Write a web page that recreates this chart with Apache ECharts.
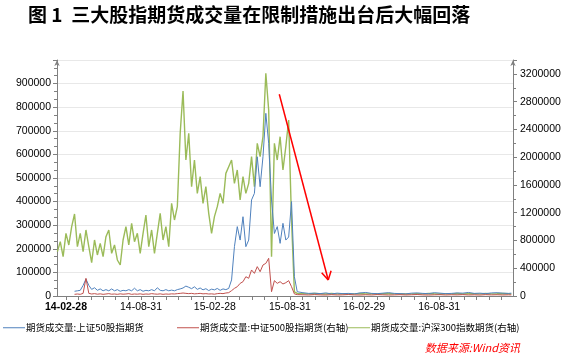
<!DOCTYPE html>
<html><head><meta charset="utf-8">
<script src="https://cdn.jsdelivr.net/npm/echarts@6/dist/echarts.min.js"></script>
<style>html,body{margin:0;padding:0;background:#fff}#c{width:570px;height:358px}</style>
</head><body><div id="c"></div>
<script>
const dates = ['2014-02-07','2014-02-14','2014-02-21','2014-02-28','2014-03-07','2014-03-14','2014-03-21','2014-03-28','2014-04-04','2014-04-11','2014-04-18','2014-04-25','2014-05-02','2014-05-09','2014-05-16','2014-05-23','2014-05-30','2014-06-06','2014-06-13','2014-06-20','2014-06-27','2014-07-04','2014-07-11','2014-07-18','2014-07-25','2014-08-01','2014-08-08','2014-08-15','2014-08-22','2014-08-29','2014-09-05','2014-09-12','2014-09-19','2014-09-26','2014-10-03','2014-10-10','2014-10-17','2014-10-24','2014-10-31','2014-11-07','2014-11-14','2014-11-21','2014-11-28','2014-12-05','2014-12-12','2014-12-19','2014-12-26',
'2015-01-02','2015-01-09','2015-01-16','2015-01-23','2015-01-30','2015-02-06','2015-02-13','2015-02-20','2015-02-27','2015-03-06','2015-03-13','2015-03-20','2015-03-27','2015-04-03','2015-04-10','2015-04-17','2015-04-24','2015-05-01','2015-05-08','2015-05-15','2015-05-22','2015-05-29','2015-06-05','2015-06-12','2015-06-19','2015-06-26','2015-07-03','2015-07-10','2015-07-17','2015-07-24','2015-07-31','2015-08-07','2015-08-14','2015-08-21','2015-08-28','2015-09-04',
'2015-09-11','2015-09-18','2015-10-02','2015-10-16','2015-10-30','2015-11-13','2015-11-27','2015-12-11','2015-12-25','2016-01-08','2016-01-22','2016-02-05','2016-02-19','2016-03-04','2016-03-18','2016-04-01','2016-04-15','2016-04-29','2016-05-13','2016-05-27','2016-06-10','2016-06-24','2016-07-08','2016-07-22','2016-08-05','2016-08-19','2016-09-02','2016-09-16','2016-09-30','2016-10-14','2016-10-28','2016-11-11','2016-11-25','2016-12-09','2016-12-23','2017-01-06','2017-01-20','2017-02-03','2017-02-17','2017-02-24'];

// 期货成交量:上证50股指期货 (left axis)
const sz50 = [null,null,null,null,null,null,
20000,22000,24000,45000,72000,45000,28000,35000,24000,30000,22000,27000,22000,30000,22000,27000,20000,24000,22000,27000,22000,33000,22000,27000,20000,24000,22000,27000,22000,35000,24000,22000,27000,22000,25000,22000,27000,30000,34000,42000,37000,31000,39000,28000,34000,26000,31000,23000,29000,26000,32000,24000,30000,27000,32000,
68000,209000,294000,237000,336000,209000,237000,407000,435000,590000,463000,590000,774000,647000,407000,265000,294000,223000,308000,237000,250000,400000,
82000,18000,14000,11000,12000,10000,13000,9000,12000,10000,11000,9000,13000,15000,11000,10000,12000,14000,11000,10000,9000,12000,13000,11000,10000,14000,12000,10000,11000,13000,12000,15000,11000,12000,10000,13000,14000,12000,11000,12000];

// 期货成交量:中证500股指期货 (right axis)
const zz500 = [null,null,null,null,null,null,
24000,29000,24000,38000,255000,38000,29000,34000,26000,31000,24000,29000,34000,26000,29000,24000,31000,26000,29000,34000,24000,29000,26000,31000,24000,29000,26000,34000,29000,26000,31000,24000,29000,26000,31000,29000,34000,38000,43000,38000,34000,38000,31000,34000,38000,31000,34000,29000,31000,26000,34000,38000,34000,43000,48000,
77000,110000,134000,182000,206000,278000,255000,375000,326000,423000,350000,447000,470000,543000,62000,221000,182000,206000,173000,192000,221000,134000,
30000,20000,18000,15000,20000,16000,14000,19000,15000,17000,21000,16000,14000,18000,15000,20000,17000,14000,16000,19000,15000,18000,21000,16000,14000,17000,19000,15000,18000,16000,20000,15000,17000,14000,19000,16000,18000,15000,17000,16000];

// 期货成交量:沪深300指数期货 (right axis)
const hs300 = [639000,783000,567000,903000,735000,999000,1181000,711000,903000,639000,951000,711000,480000,807000,591000,759000,567000,855000,951000,615000,735000,519000,447000,807000,999000,735000,1047000,783000,903000,615000,903000,1167000,711000,951000,615000,903000,1191000,807000,999000,711000,1335000,1095000,1287000,2343000,2953000,1959000,2343000,1575000,1959000,1479000,1719000,1335000,1575000,1191000,903000,1143000,1287000,1479000,1335000,1767000,1863000,1959000,1623000,1815000,1383000,1719000,1479000,1623000,2007000,1575000,2199000,2007000,2295000,3208000,2679000,567000,2199000,1959000,2295000,1815000,2151000,2535000,1095000,
60000,38000,34000,30000,36000,32000,28000,35000,30000,33000,29000,31000,36000,30000,34000,28000,32000,35000,30000,33000,29000,31000,34000,30000,36000,32000,29000,33000,31000,35000,30000,34000,32000,30000,35000,31000,33000,36000,32000,30000];

const seriesNames = ['期货成交量:上证50股指期货','期货成交量:中证500股指期货(右轴)','期货成交量:沪深300指数期货(右轴)'];
const xLabelDates = ['2014-02-28','2014-08-31','2015-02-28','2015-08-31','2016-02-29','2016-08-31'];
const arrowLine = [['2015-08-05',2906000],['2015-12-03',230000]];
const arrowWings = [['2015-11-17',336000],['2015-12-10',365000]];

function ts(s){const p=s.split('-');return new Date(+p[0],+p[1]-1,+p[2]).getTime();}
function pad(n){return (n<10?'0':'')+n;}
const monthTicks=[];
for(let y=2014;y<=2017;y++)for(let m=0;m<12;m++){const t=new Date(y,m+1,0).getTime();if(t>=ts('2014-02-28')&&t<=ts('2017-01-31'))monthTicks.push(t);}
function pairs(arr){const out=[];dates.forEach((d,i)=>{if(arr[i]!=null)out.push([ts(d),arr[i]]);});return out;}

const FONT='Liberation Sans';
const CJK='Noto Sans CJK SC';
const colors=['#4F81BD','#C0504D','#9BBB59'];
const plain=function(v){return String(v);};

const chart=echarts.init(document.getElementById('c'),null,{renderer:'canvas'});
const legendBase={icon:'rect',itemWidth:22,itemHeight:1,top:323,selectedMode:false,padding:0,
  textStyle:{fontSize:9.5,color:'#000',fontFamily:CJK,padding:[0,0,0,-4]}};
chart.setOption({
  animation:false,
  color:colors,
  title:[
    {text:'图 1  三大股指期货成交量在限制措施出台后大幅回落',left:28,top:5,padding:0,
     textStyle:{fontSize:19,fontWeight:'bold',color:'#000',fontFamily:CJK}},
    {text:'数据来源:Wind资讯',right:50,top:342,padding:0,
     textStyle:{fontSize:11,fontWeight:'normal',fontStyle:'italic',color:'#FF0000',fontFamily:CJK}}
  ],
  legend:[
    Object.assign({},legendBase,{left:3,data:[seriesNames[0]]}),
    Object.assign({},legendBase,{left:177,data:[seriesNames[1]]}),
    Object.assign({},legendBase,{left:348,data:[seriesNames[2]]})
  ],
  grid:{left:57,right:57,top:60,bottom:62},
  xAxis:{type:'value',min:ts('2014-02-06'),max:ts('2017-02-28'),
    axisLine:{show:true,lineStyle:{color:'#808080',width:1}},
    axisTick:{show:true,length:4,lineStyle:{color:'#808080'},customValues:monthTicks},
    axisLabel:{customValues:xLabelDates.map(ts),fontSize:10.5,color:'#000',fontFamily:FONT,margin:6,
      formatter:function(v){const d=new Date(v);const s=String(d.getFullYear()).slice(2)+'-'+pad(d.getMonth()+1)+'-'+pad(d.getDate());return s==='14-02-28'?'{b|'+s+'}':s;},
      rich:{b:{fontWeight:'bold',fontSize:10.5,color:'#000',fontFamily:FONT}}},
    splitLine:{show:false}},
  yAxis:[
    {type:'value',min:0,max:1000000,interval:100000,position:'left',
     axisLine:{show:true,symbol:['none','arrow'],symbolSize:[4,6],lineStyle:{color:'#808080'}},
     axisTick:{show:true,length:4,lineStyle:{color:'#808080'}},
     minorTick:{show:true,splitNumber:3,length:3,lineStyle:{color:'#808080'}},
     axisLabel:{showMaxLabel:false,fontSize:10.5,color:'#000',fontFamily:FONT,margin:6,formatter:plain},
     splitLine:{show:true,lineStyle:{color:'#E8E8E8',width:1}}},
    {type:'value',min:0,max:3400000,interval:400000,position:'right',
     axisLine:{show:true,symbol:['none','arrow'],symbolSize:[4,6],lineStyle:{color:'#808080'}},
     axisTick:{show:true,length:4,lineStyle:{color:'#808080'}},
     minorTick:{show:true,splitNumber:2,length:3,lineStyle:{color:'#808080'}},
     axisLabel:{showMaxLabel:false,fontSize:10.5,color:'#000',fontFamily:FONT,margin:7,formatter:plain},
     splitLine:{show:false}}
  ],
  series:[
    {name:seriesNames[2],type:'line',yAxisIndex:1,data:pairs(hs300),showSymbol:false,z:2,
     lineStyle:{width:1.4,color:colors[2]},itemStyle:{color:colors[2]},
     markLine:{silent:true,symbol:['none','none'],animation:false,label:{show:false},
       lineStyle:{color:'#FF0000',width:1.5,type:'solid'},
       data:[
         [{coord:[ts(arrowLine[0][0]),arrowLine[0][1]]},{coord:[ts(arrowLine[1][0]),arrowLine[1][1]]}],
         [{coord:[ts(arrowWings[0][0]),arrowWings[0][1]]},{coord:[ts(arrowLine[1][0]),arrowLine[1][1]]}],
         [{coord:[ts(arrowWings[1][0]),arrowWings[1][1]]},{coord:[ts(arrowLine[1][0]),arrowLine[1][1]]}]
       ]}},
    {name:seriesNames[0],type:'line',yAxisIndex:0,data:pairs(sz50),showSymbol:false,z:3,
     lineStyle:{width:1,color:colors[0]},itemStyle:{color:colors[0]}},
    {name:seriesNames[1],type:'line',yAxisIndex:1,data:pairs(zz500),showSymbol:false,z:4,
     lineStyle:{width:1,color:colors[1]},itemStyle:{color:colors[1]}}
  ]
});
</script></body></html>
